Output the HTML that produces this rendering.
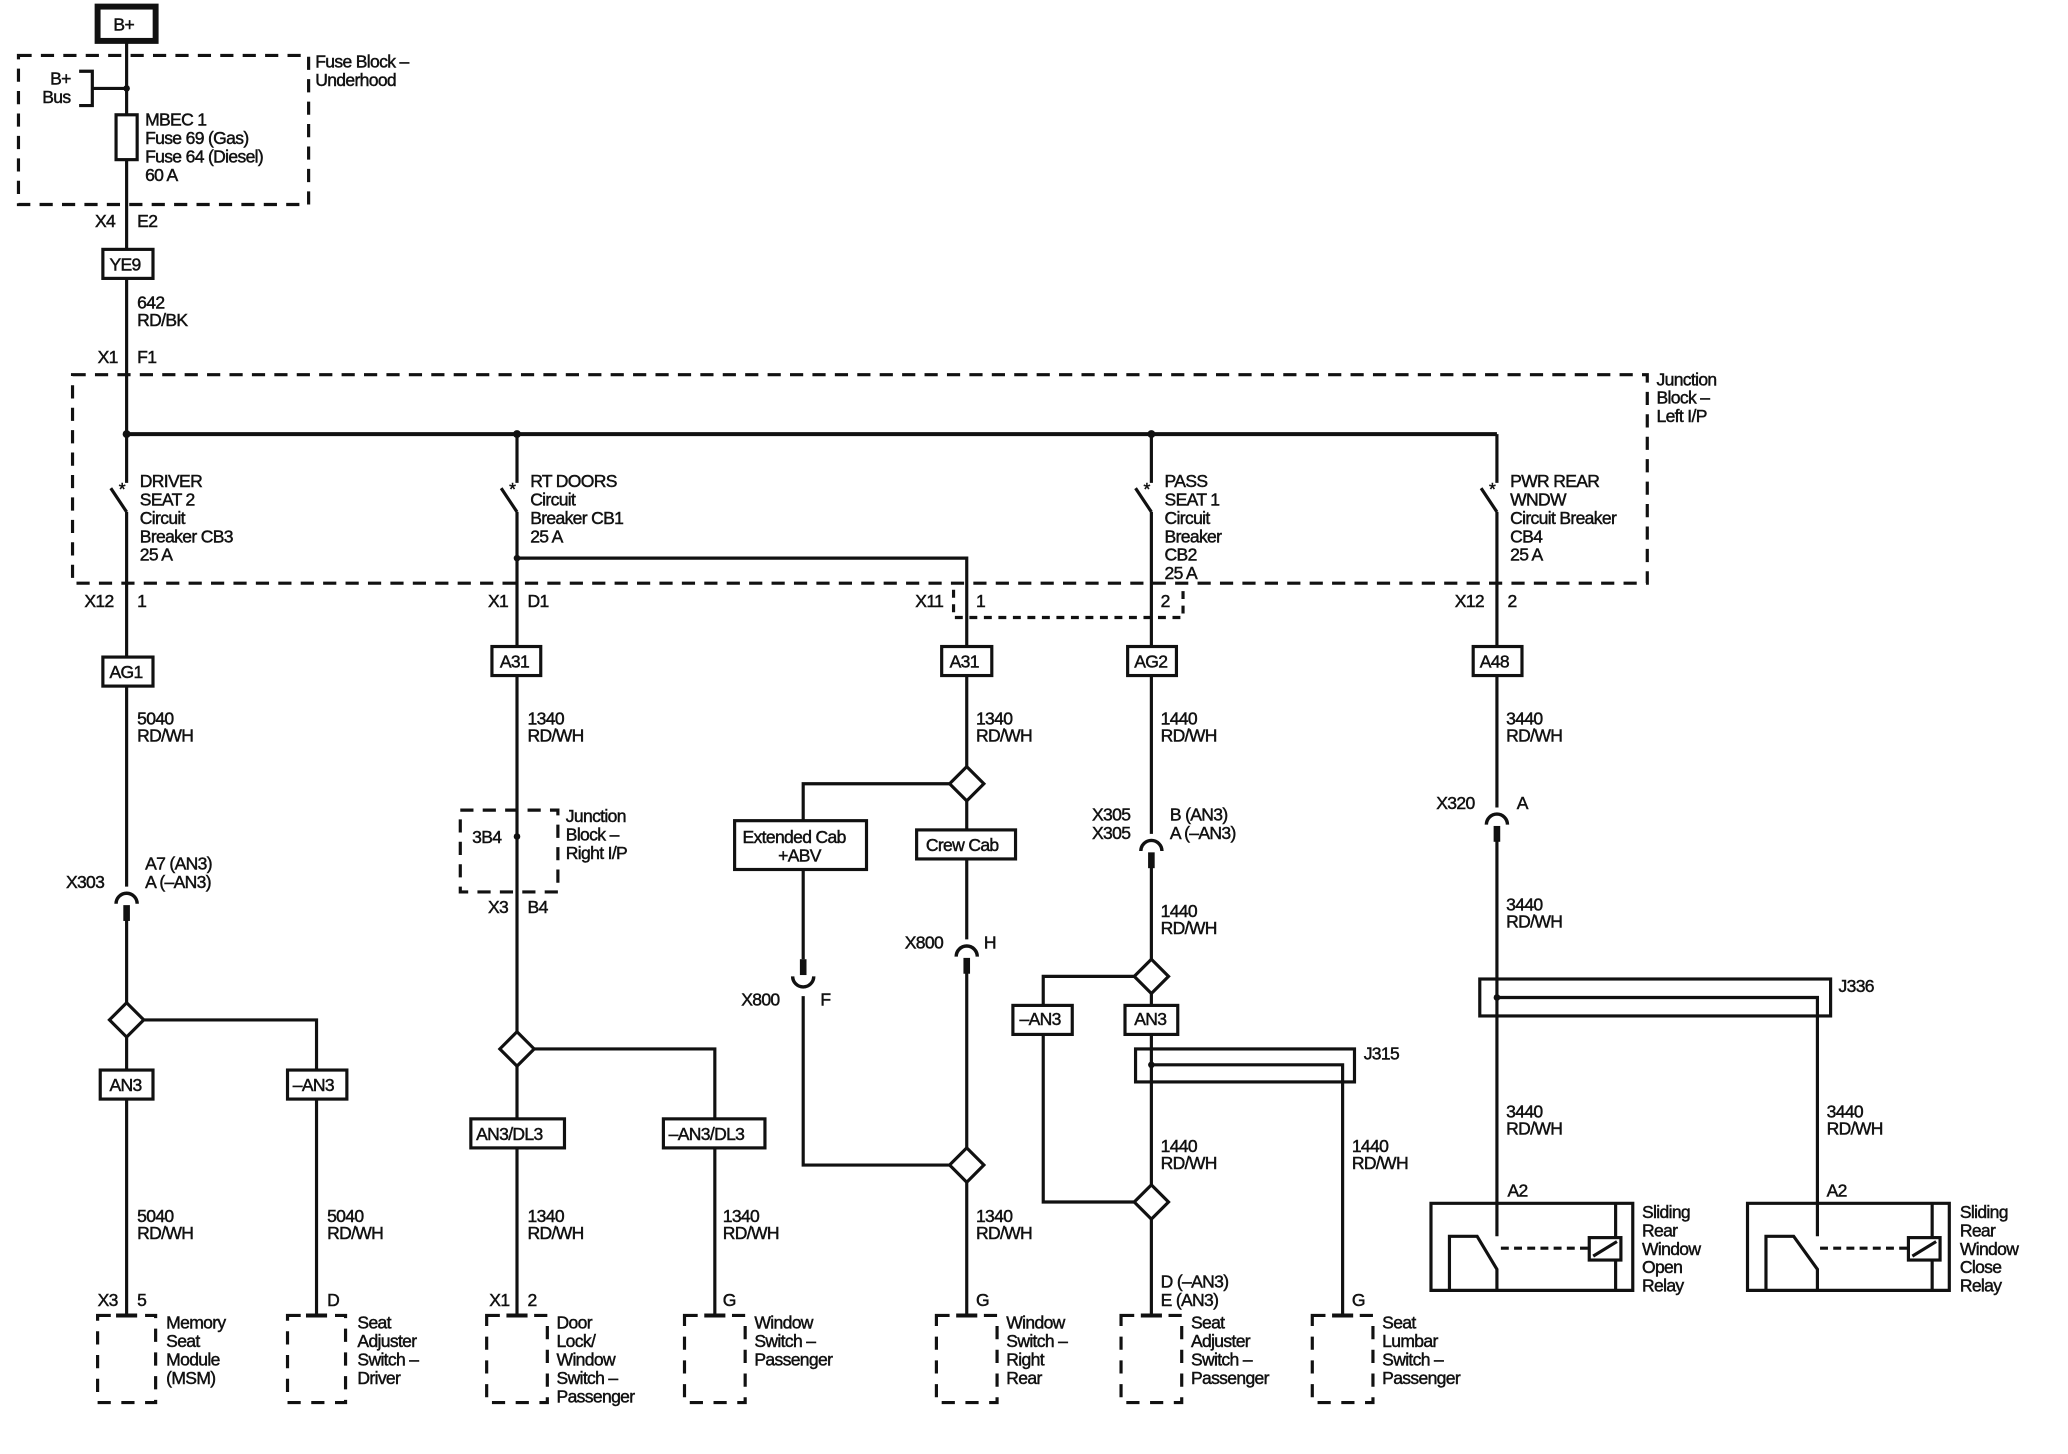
<!DOCTYPE html>
<html><head><meta charset="utf-8"><style>
html,body{margin:0;padding:0;background:#fff;}
svg{display:block}
text{font-family:"Liberation Sans",Arial,sans-serif;font-size:13.3px;fill:#111;stroke:#111;stroke-width:0.35px;letter-spacing:-0.5px}
</style></head><body>
<svg width="2068" height="1454" viewBox="0 0 1568 1102" preserveAspectRatio="none" xmlns="http://www.w3.org/2000/svg">
<defs>
<g id="dia"><path d="M0 -13 L13 0 L0 13 L-13 0 Z" fill="#fff" stroke="#111" stroke-width="2.4"/></g>
<g id="conn"><path d="M-8 5 A8 8 0 0 1 8 5" fill="none" stroke="#111" stroke-width="2.6"/><rect x="-2.5" y="6" width="5" height="12" fill="#111"/></g>
<g id="connU"><path d="M-8 -5 A8 8 0 0 0 8 -5" fill="none" stroke="#111" stroke-width="2.6"/><rect x="-2.5" y="-18" width="5" height="12" fill="#111"/></g>
</defs>
<g stroke="#111" stroke-width="2.4" fill="none">
<rect x="14" y="42" width="220" height="113" stroke-dasharray="10,7"/>
<rect x="55" y="284" width="1194" height="158" stroke-dasharray="10,7"/>
<rect x="349" y="614" width="74" height="62" stroke-dasharray="10,7"/>
<path d="M723 447 V468 H897 V447" stroke-dasharray="6,5"/>
<rect x="74" y="5" width="44" height="26" stroke-width="4.5"/>
<path d="M96 31 V329"/>
<path d="M60 54 H70 V80 H60 M70 67 H96"/>
<rect x="88" y="87" width="16" height="34" fill="#fff"/>
<rect x="78" y="189" width="38" height="22" fill="#fff"/>
<path d="M96 329 H1135" stroke-width="3"/>
<path d="M96 329 V366 M84 370 L96 388 M96 388 V498"/>
<path d="M392 329 V366 M380 370 L392 388 M392 388 V490"/>
<path d="M873 329 V366 M861 370 L873 388 M873 388 V490"/>
<path d="M1135 329 V366 M1123 370 L1135 388 M1135 388 V490"/>
<path d="M392 423 H733 V490"/>
<rect x="78" y="498" width="38" height="22"/>
<path d="M96 520 V672"/>
<path d="M96 697 V760 M109 773 H240 V811 M96 786 V811"/>
<rect x="76" y="811" width="40" height="22"/>
<rect x="218" y="811" width="45" height="22"/>
<path d="M96 833 V997 M240 833 V997"/>
<rect x="373" y="490" width="37" height="22"/>
<path d="M392 512 V782 M405 795 H542 V848 M392 808 V848"/>
<rect x="357" y="848" width="71" height="22"/>
<rect x="503" y="848" width="77" height="22"/>
<path d="M392 870 V997 M542 870 V997"/>
<rect x="714" y="490" width="38" height="22"/>
<path d="M733 512 V581 M720 594 H609 V622 M733 607 V629"/>
<rect x="557" y="622" width="100" height="37"/>
<rect x="695" y="629" width="75" height="22"/>
<path d="M609 659 V727 M609 755 V883 H720 M733 651 V712 M733 737 V870 M733 896 V997"/>
<rect x="855" y="490" width="37" height="22"/>
<path d="M873 512 V632 M873 657 V727 M860 740 H791 V762 M873 753 V762"/>
<rect x="768" y="762" width="45" height="22"/>
<rect x="853" y="762" width="40" height="22"/>
<rect x="861" y="795" width="166" height="25"/>
<path d="M873 784 V898 M873 807 H1018 V997 M791 784 V911 H860 M873 924 V997"/>
<rect x="1117" y="490" width="37" height="22"/>
<path d="M1135 512 V612 M1135 637 V937"/>
<rect x="1122" y="742" width="266" height="28"/>
<path d="M1135 756 H1378 V937"/>
<path d="M1085 912 H1238 V978 H1085 Z M1225 912 V978 M1099 978 V937 H1120 L1135 962 V978"/>
<rect x="1205" y="938" width="24" height="17" fill="#fff"/>
<path d="M1208 952 L1226 941"/>
<path d="M1138 946 H1205" stroke-dasharray="6,4"/>
<path d="M1325 912 H1478 V978 H1325 Z M1465 912 V978 M1339 978 V937 H1360 L1378 962 V978"/>
<rect x="1447" y="938" width="24" height="17" fill="#fff"/>
<path d="M1450 952 L1468 941"/>
<path d="M1380 946 H1447" stroke-dasharray="6,4"/>
<g stroke-dasharray="10,8">
<rect x="74" y="997" width="44" height="66"/>
<rect x="218" y="997" width="44" height="66"/>
<rect x="369" y="997" width="46" height="66"/>
<rect x="519" y="997" width="46" height="66"/>
<rect x="710" y="997" width="46" height="66"/>
<rect x="850" y="997" width="46" height="66"/>
<rect x="995" y="997" width="46" height="66"/>
</g>
<path d="M88 997 H104 M232 997 H248 M384 997 H400 M534 997 H550 M725 997 H741 M865 997 H881 M1010 997 H1026" stroke-width="3"/>
</g>
<g fill="#111">
<circle cx="96" cy="67" r="2.5"/><circle cx="96" cy="329" r="3"/><circle cx="392" cy="329" r="3"/><circle cx="873" cy="329" r="3"/>
<circle cx="392" cy="423" r="2.5"/><circle cx="392" cy="634" r="2.5"/><circle cx="873" cy="807" r="2.5"/><circle cx="1135" cy="756" r="2.5"/>
</g>
<use href="#dia" x="96" y="773"/><use href="#dia" x="392" y="795"/><use href="#dia" x="733" y="594"/><use href="#dia" x="733" y="883"/>
<use href="#dia" x="873" y="740"/><use href="#dia" x="873" y="911"/>
<use href="#conn" x="96" y="680"/><use href="#conn" x="733" y="720"/><use href="#conn" x="873" y="640"/><use href="#conn" x="1135" y="620"/>
<use href="#connU" x="609" y="745"/>
<text x="86" y="23">B+</text>
<text x="38" y="64">B+</text><text x="32" y="78">Bus</text>
<text x="239" y="51">Fuse Block –</text><text x="239" y="65">Underhood</text>
<text x="110" y="95">MBEC 1</text><text x="110" y="109">Fuse 69 (Gas)</text><text x="110" y="123">Fuse 64 (Diesel)</text><text x="110" y="137">60 A</text>
<text x="72" y="172">X4</text><text x="104" y="172">E2</text>
<text x="83" y="205">YE9</text>
<text x="104" y="234">642</text><text x="104" y="247">RD/BK</text>
<text x="74" y="275">X1</text><text x="104" y="275">F1</text>
<text x="1256" y="292">Junction</text><text x="1256" y="306">Block –</text><text x="1256" y="320">Left I/P</text>
<g font-size="14"><text x="90" y="375">*</text><text x="386" y="375">*</text><text x="867" y="375">*</text><text x="1129" y="375">*</text></g>
<text x="106" y="369">DRIVER</text><text x="106" y="383">SEAT 2</text><text x="106" y="397">Circuit</text><text x="106" y="411">Breaker CB3</text><text x="106" y="425">25 A</text>
<text x="402" y="369">RT DOORS</text><text x="402" y="383">Circuit</text><text x="402" y="397">Breaker CB1</text><text x="402" y="411">25 A</text>
<text x="883" y="369">PASS</text><text x="883" y="383">SEAT 1</text><text x="883" y="397">Circuit</text><text x="883" y="411">Breaker</text><text x="883" y="425">CB2</text><text x="883" y="439">25 A</text>
<text x="1145" y="369">PWR REAR</text><text x="1145" y="383">WNDW</text><text x="1145" y="397">Circuit Breaker</text><text x="1145" y="411">CB4</text><text x="1145" y="425">25 A</text>
<text x="64" y="460">X12</text><text x="104" y="460">1</text>
<text x="370" y="460">X1</text><text x="400" y="460">D1</text>
<text x="694" y="460">X11</text><text x="740" y="460">1</text>
<text x="880" y="460">2</text>
<text x="1103" y="460">X12</text><text x="1143" y="460">2</text>
<text x="83" y="514">AG1</text><text x="379" y="506">A31</text><text x="720" y="506">A31</text><text x="860" y="506">AG2</text><text x="1122" y="506">A48</text>
<text x="104" y="549">5040</text><text x="104" y="562">RD/WH</text>
<text x="400" y="549">1340</text><text x="400" y="562">RD/WH</text>
<text x="740" y="549">1340</text><text x="740" y="562">RD/WH</text>
<text x="880" y="549">1440</text><text x="880" y="562">RD/WH</text>
<text x="1142" y="549">3440</text><text x="1142" y="562">RD/WH</text>
<text x="429" y="623">Junction</text><text x="429" y="637">Block –</text><text x="429" y="651">Right I/P</text>
<text x="358" y="639">3B4</text>
<text x="370" y="692">X3</text><text x="400" y="692">B4</text>
<text x="563" y="639">Extended Cab</text><text x="590" y="653">+ABV</text>
<text x="702" y="645">Crew Cab</text>
<text x="828" y="622">X305</text><text x="828" y="636">X305</text><text x="887" y="622">B (AN3)</text><text x="887" y="636">A (–AN3)</text>
<text x="1089" y="613">X320</text><text x="1150" y="613">A</text>
<text x="110" y="659">A7 (AN3)</text><text x="110" y="673">A (–AN3)</text><text x="50" y="673">X303</text>
<text x="880" y="695">1440</text><text x="880" y="708">RD/WH</text>
<text x="1142" y="690">3440</text><text x="1142" y="703">RD/WH</text>
<text x="686" y="719">X800</text><text x="746" y="719">H</text>
<text x="562" y="762">X800</text><text x="622" y="762">F</text>
<text x="1394" y="752">J336</text><text x="1034" y="803">J315</text>
<text x="773" y="777">–AN3</text><text x="860" y="777">AN3</text>
<text x="83" y="827">AN3</text><text x="222" y="827">–AN3</text>
<text x="361" y="864">AN3/DL3</text><text x="507" y="864">–AN3/DL3</text>
<text x="1142" y="847">3440</text><text x="1142" y="860">RD/WH</text>
<text x="1385" y="847">3440</text><text x="1385" y="860">RD/WH</text>
<text x="880" y="873">1440</text><text x="880" y="886">RD/WH</text>
<text x="1025" y="873">1440</text><text x="1025" y="886">RD/WH</text>
<text x="1143" y="907">A2</text><text x="1385" y="907">A2</text>
<text x="1245" y="923">Sliding</text><text x="1245" y="937">Rear</text><text x="1245" y="951">Window</text><text x="1245" y="965">Open</text><text x="1245" y="979">Relay</text>
<text x="1486" y="923">Sliding</text><text x="1486" y="937">Rear</text><text x="1486" y="951">Window</text><text x="1486" y="965">Close</text><text x="1486" y="979">Relay</text>
<text x="104" y="926">5040</text><text x="104" y="939">RD/WH</text>
<text x="248" y="926">5040</text><text x="248" y="939">RD/WH</text>
<text x="400" y="926">1340</text><text x="400" y="939">RD/WH</text>
<text x="548" y="926">1340</text><text x="548" y="939">RD/WH</text>
<text x="740" y="926">1340</text><text x="740" y="939">RD/WH</text>
<text x="880" y="976">D (–AN3)</text><text x="880" y="990">E (AN3)</text>
<text x="74" y="990">X3</text><text x="104" y="990">5</text><text x="248" y="990">D</text>
<text x="371" y="990">X1</text><text x="400" y="990">2</text><text x="548" y="990">G</text><text x="740" y="990">G</text><text x="1025" y="990">G</text>
<text x="126" y="1007">Memory</text><text x="126" y="1021">Seat</text><text x="126" y="1035">Module</text><text x="126" y="1049">(MSM)</text>
<text x="271" y="1007">Seat</text><text x="271" y="1021">Adjuster</text><text x="271" y="1035">Switch –</text><text x="271" y="1049">Driver</text>
<text x="422" y="1007">Door</text><text x="422" y="1021">Lock/</text><text x="422" y="1035">Window</text><text x="422" y="1049">Switch –</text><text x="422" y="1063">Passenger</text>
<text x="572" y="1007">Window</text><text x="572" y="1021">Switch –</text><text x="572" y="1035">Passenger</text>
<text x="763" y="1007">Window</text><text x="763" y="1021">Switch –</text><text x="763" y="1035">Right</text><text x="763" y="1049">Rear</text>
<text x="903" y="1007">Seat</text><text x="903" y="1021">Adjuster</text><text x="903" y="1035">Switch –</text><text x="903" y="1049">Passenger</text>
<text x="1048" y="1007">Seat</text><text x="1048" y="1021">Lumbar</text><text x="1048" y="1035">Switch –</text><text x="1048" y="1049">Passenger</text>
</svg>
</body></html>
